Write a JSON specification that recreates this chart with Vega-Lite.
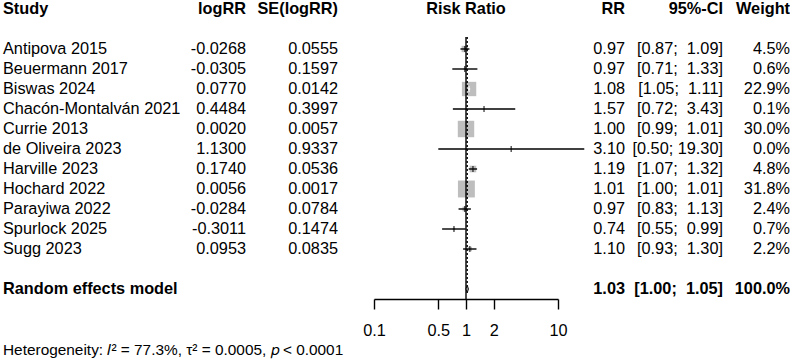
{
  "$schema": "https://vega.github.io/schema/vega-lite/v6.json",
  "padding": {"left": 3, "top": 0, "right": 0, "bottom": 0},
  "background": "white",
  "config": {
    "view": {"stroke": null},
    "font": "Liberation Sans",
    "axisY": {"disable": true},
    "text": {"font": "Liberation Sans", "fontSize": 16.3, "color": "#000000", "baseline": "middle"}
  },
  "datasets": {
    "studies": [
      {"row": 1, "study": "Antipova 2015", "logrr": "-0.0268", "se": "0.0555", "rr": 0.97, "lo": 0.87, "hi": 1.09, "ci": "[0.87;\u00a0 1.09]", "w": 0.045},
      {"row": 2, "study": "Beuermann 2017", "logrr": "-0.0305", "se": "0.1597", "rr": 0.97, "lo": 0.71, "hi": 1.33, "ci": "[0.71;\u00a0 1.33]", "w": 0.006},
      {"row": 3, "study": "Biswas 2024", "logrr": "0.0770", "se": "0.0142", "rr": 1.08, "lo": 1.05, "hi": 1.11, "ci": "[1.05;\u00a0 1.11]", "w": 0.229},
      {"row": 4, "study": "Chacón-Montalván 2021", "logrr": "0.4484", "se": "0.3997", "rr": 1.57, "lo": 0.72, "hi": 3.43, "ci": "[0.72;\u00a0 3.43]", "w": 0.001},
      {"row": 5, "study": "Currie 2013", "logrr": "0.0020", "se": "0.0057", "rr": 1.00, "lo": 0.99, "hi": 1.01, "ci": "[0.99;\u00a0 1.01]", "w": 0.300},
      {"row": 6, "study": "de Oliveira 2023", "logrr": "1.1300", "se": "0.9337", "rr": 3.10, "lo": 0.50, "hi": 19.30, "ci": "[0.50; 19.30]", "w": 0.000},
      {"row": 7, "study": "Harville 2023", "logrr": "0.1740", "se": "0.0536", "rr": 1.19, "lo": 1.07, "hi": 1.32, "ci": "[1.07;\u00a0 1.32]", "w": 0.048},
      {"row": 8, "study": "Hochard 2022", "logrr": "0.0056", "se": "0.0017", "rr": 1.01, "lo": 1.00, "hi": 1.01, "ci": "[1.00;\u00a0 1.01]", "w": 0.318},
      {"row": 9, "study": "Parayiwa 2022", "logrr": "-0.0284", "se": "0.0784", "rr": 0.97, "lo": 0.83, "hi": 1.13, "ci": "[0.83;\u00a0 1.13]", "w": 0.024},
      {"row": 10, "study": "Spurlock 2025", "logrr": "-0.3011", "se": "0.1474", "rr": 0.74, "lo": 0.55, "hi": 0.99, "ci": "[0.55;\u00a0 0.99]", "w": 0.007},
      {"row": 11, "study": "Sugg 2023", "logrr": "0.0953", "se": "0.0835", "rr": 1.10, "lo": 0.93, "hi": 1.30, "ci": "[0.93;\u00a0 1.30]", "w": 0.022}
    ],
    "pooled": [
      {"row": 13, "label": "Random effects model", "rr": 1.03, "lo": 1.00, "hi": 1.05, "ci": "[1.00;\u00a0 1.05]", "w": 1.0}
    ]
  },
  "bounds": "flush",
  "spacing": 0,
  "resolve": {"scale": {"x": "independent", "y": "independent", "size": "independent", "color": "independent"}},
  "hconcat": [
    {
      "width": 150,
      "height": 361,
      "layer": [
        {
          "data": {"name": "studies"},
          "mark": {"type": "text", "align": "left"},
          "encoding": {
            "x": {"value": 0},
            "y": {"field": "row", "type": "quantitative", "scale": {"domain": [-1.45, 16.6], "nice": false, "zero": false, "reverse": true}},
            "text": {"field": "study"}
          }
        },
        {
          "data": {"name": "pooled"},
          "mark": {"type": "text", "align": "left", "fontWeight": "bold"},
          "encoding": {
            "x": {"value": 0},
            "y": {"field": "row", "type": "quantitative"},
            "text": {"field": "label"}
          }
        },
        {
          "data": {"values": [{"t": "Study"}]},
          "mark": {"type": "text", "align": "left", "fontWeight": "bold"},
          "encoding": {
            "x": {"value": 0},
            "y": {"datum": -1, "type": "quantitative"},
            "text": {"field": "t"}
          }
        },
        {
          "data": {"values": [{"t": "Heterogeneity: 𝐼² = 77.3%, τ² = 0.0005, 𝑝 < 0.0001"}]},
          "mark": {"type": "text", "align": "left", "fontSize": 15.4},
          "encoding": {
            "x": {"value": 0},
            "y": {"datum": 16.05, "type": "quantitative"},
            "text": {"field": "t"}
          }
        }
      ]
    },
    {
      "width": 93,
      "height": 299,
      "layer": [
        {
          "data": {"name": "studies"},
          "mark": {"type": "text", "align": "right"},
          "encoding": {
            "x": {"value": "width"},
            "y": {"field": "row", "type": "quantitative", "scale": {"domain": [-1.45, 13.5], "nice": false, "zero": false, "reverse": true}},
            "text": {"field": "logrr"}
          }
        },
        {
          "data": {"values": [{"t": "logRR"}]},
          "mark": {"type": "text", "align": "right", "fontWeight": "bold"},
          "encoding": {
            "x": {"value": "width"},
            "y": {"datum": -1, "type": "quantitative"},
            "text": {"field": "t"}
          }
        }
      ]
    },
    {
      "width": 92,
      "height": 299,
      "layer": [
        {
          "data": {"name": "studies"},
          "mark": {"type": "text", "align": "right"},
          "encoding": {
            "x": {"value": "width"},
            "y": {"field": "row", "type": "quantitative", "scale": {"domain": [-1.45, 13.5], "nice": false, "zero": false, "reverse": true}},
            "text": {"field": "se"}
          }
        },
        {
          "data": {"values": [{"t": "SE(logRR)"}]},
          "mark": {"type": "text", "align": "right", "fontWeight": "bold"},
          "encoding": {
            "x": {"value": "width"},
            "y": {"datum": -1, "type": "quantitative"},
            "text": {"field": "t"}
          }
        }
      ]
    },
    {
      "width": 36,
      "height": 299,
      "data": {"values": []},
      "mark": {"type": "point", "opacity": 0},
      "encoding": {}
    },
    {
      "width": 184,
      "height": 299,
      "layer": [
        {
          "data": {"name": "studies"},
          "mark": {"type": "point", "shape": "square", "filled": true, "color": "#BEBEBE", "opacity": 1},
          "encoding": {
            "x": {
              "field": "rr",
              "type": "quantitative",
              "scale": {"type": "log", "domain": [0.1, 10], "nice": false},
              "axis": {
                "values": [0.1, 0.5, 1, 2, 10],
                "format": "~g",
                "title": null,
                "grid": false,
                "tickSize": 10,
                "tickWidth": 1.4,
                "tickColor": "#000000",
                "domainColor": "#000000",
                "domainWidth": 1.4,
                "labelColor": "#000000",
                "labelFont": "Liberation Sans",
                "labelFontSize": 16.3,
                "labelPadding": 13,
                "labelFlush": false,
                "labelOverlap": false
              }
            },
            "y": {"field": "row", "type": "quantitative", "scale": {"domain": [-1.45, 13.5], "nice": false, "zero": false, "reverse": true}},
            "size": {"field": "w", "type": "quantitative", "scale": {"type": "linear", "domain": [0, 1], "range": [0, 900]}, "legend": null}
          }
        },
        {
          "data": {"name": "studies"},
          "mark": {"type": "rule", "strokeWidth": 1.4},
          "encoding": {
            "x": {"field": "lo", "type": "quantitative"},
            "x2": {"field": "hi"},
            "y": {"field": "row", "type": "quantitative"},
            "color": {"condition": {"test": "datum.w > 0.1", "value": "white"}, "value": "black"}
          }
        },
        {
          "data": {"name": "studies"},
          "mark": {"type": "tick", "orient": "vertical", "size": 6, "thickness": 1.4},
          "encoding": {
            "x": {"field": "rr", "type": "quantitative"},
            "y": {"field": "row", "type": "quantitative"},
            "color": {"condition": {"test": "datum.w > 0.1", "value": "white"}, "value": "black"}
          }
        },
        {
          "data": {"values": [{"ref": 1}]},
          "mark": {"type": "rule", "color": "black", "strokeWidth": 1.4},
          "encoding": {
            "x": {"field": "ref", "type": "quantitative"},
            "y": {"datum": 0.4, "type": "quantitative"},
            "y2": {"datum": 13.5}
          }
        },
        {
          "data": {"name": "pooled"},
          "mark": {"type": "rule", "color": "black", "strokeWidth": 1.4, "strokeDash": [2, 2]},
          "encoding": {
            "x": {"field": "rr", "type": "quantitative"},
            "y": {"datum": 0.4, "type": "quantitative"},
            "y2": {"datum": 12.75}
          }
        },
        {
          "data": {"name": "pooled"},
          "mark": {"type": "point", "shape": "M-0.3,0L0,-1L0.3,0L0,1Z", "filled": true, "fill": "#BEBEBE", "stroke": "black", "strokeWidth": 1, "opacity": 1, "size": 64},
          "encoding": {
            "x": {"field": "rr", "type": "quantitative"},
            "y": {"field": "row", "type": "quantitative"}
          }
        },
        {
          "data": {"values": [{"t": "Risk Ratio", "at": 1}]},
          "mark": {"type": "text", "align": "center", "fontWeight": "bold"},
          "encoding": {
            "x": {"field": "at", "type": "quantitative"},
            "y": {"datum": -1, "type": "quantitative"},
            "text": {"field": "t"}
          }
        }
      ]
    },
    {
      "width": 67,
      "height": 299,
      "layer": [
        {
          "data": {"name": "studies"},
          "mark": {"type": "text", "align": "right"},
          "encoding": {
            "x": {"value": "width"},
            "y": {"field": "row", "type": "quantitative", "scale": {"domain": [-1.45, 13.5], "nice": false, "zero": false, "reverse": true}},
            "text": {"field": "rr", "format": ".2f"}
          }
        },
        {
          "data": {"name": "pooled"},
          "mark": {"type": "text", "align": "right", "fontWeight": "bold"},
          "encoding": {
            "x": {"value": "width"},
            "y": {"field": "row", "type": "quantitative"},
            "text": {"field": "rr", "format": ".2f"}
          }
        },
        {
          "data": {"values": [{"t": "RR"}]},
          "mark": {"type": "text", "align": "right", "fontWeight": "bold"},
          "encoding": {
            "x": {"value": "width"},
            "y": {"datum": -1, "type": "quantitative"},
            "text": {"field": "t"}
          }
        }
      ]
    },
    {
      "width": 98,
      "height": 299,
      "layer": [
        {
          "data": {"name": "studies"},
          "mark": {"type": "text", "align": "right"},
          "encoding": {
            "x": {"value": "width"},
            "y": {"field": "row", "type": "quantitative", "scale": {"domain": [-1.45, 13.5], "nice": false, "zero": false, "reverse": true}},
            "text": {"field": "ci"}
          }
        },
        {
          "data": {"name": "pooled"},
          "mark": {"type": "text", "align": "right", "fontWeight": "bold"},
          "encoding": {
            "x": {"value": "width"},
            "y": {"field": "row", "type": "quantitative"},
            "text": {"field": "ci"}
          }
        },
        {
          "data": {"values": [{"t": "95%-CI"}]},
          "mark": {"type": "text", "align": "right", "fontWeight": "bold"},
          "encoding": {
            "x": {"value": "width"},
            "y": {"datum": -1, "type": "quantitative"},
            "text": {"field": "t"}
          }
        }
      ]
    },
    {
      "width": 67,
      "height": 299,
      "layer": [
        {
          "data": {"name": "studies"},
          "mark": {"type": "text", "align": "right"},
          "encoding": {
            "x": {"value": "width"},
            "y": {"field": "row", "type": "quantitative", "scale": {"domain": [-1.45, 13.5], "nice": false, "zero": false, "reverse": true}},
            "text": {"field": "w", "format": ".1%"}
          }
        },
        {
          "data": {"name": "pooled"},
          "mark": {"type": "text", "align": "right", "fontWeight": "bold"},
          "encoding": {
            "x": {"value": "width"},
            "y": {"field": "row", "type": "quantitative"},
            "text": {"field": "w", "format": ".1%"}
          }
        },
        {
          "data": {"values": [{"t": "Weight"}]},
          "mark": {"type": "text", "align": "right", "fontWeight": "bold"},
          "encoding": {
            "x": {"value": "width"},
            "y": {"datum": -1, "type": "quantitative"},
            "text": {"field": "t"}
          }
        }
      ]
    }
  ]
}
